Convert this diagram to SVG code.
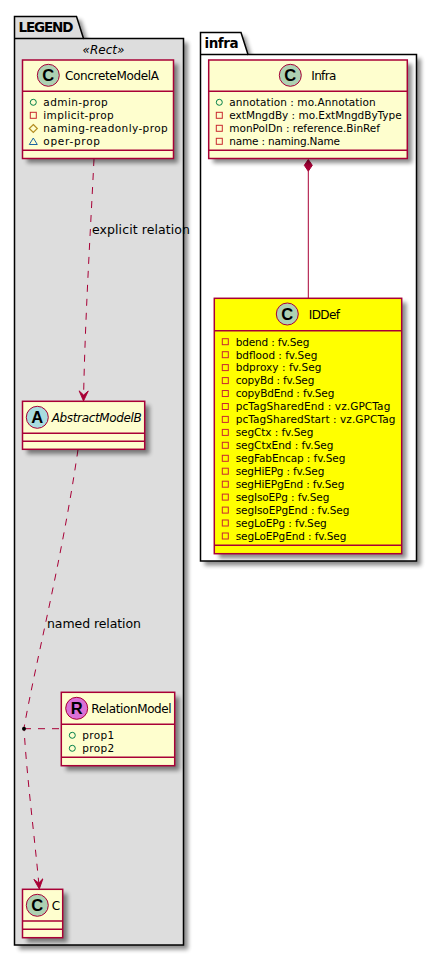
<svg xmlns="http://www.w3.org/2000/svg" width="437" height="956" viewBox="0 0 437 956">
<style>
text{font-family:"DejaVu Sans","Liberation Sans",sans-serif;fill:#000}
.a{font-size:10.5px}
.t{font-size:12px}
.i{font-style:italic}
.l{font-size:12.5px}
.p{font-size:13.5px;font-weight:bold}
.g{font-family:"Liberation Sans",sans-serif;font-size:16.5px;font-weight:bold;text-anchor:middle}
.pk{stroke:#000;stroke-width:1.5;fill:#fff}
.gr{fill:#DDDDDD}
.box{fill:#FEFECE;stroke:#A80036;stroke-width:1.5}
.y{fill:#FFFF00}
.sep{stroke:#A80036;stroke-width:1.5;fill:none}
.c{stroke:#A80036;stroke-width:1;fill:none}
.d{stroke-dasharray:7,7}
.ci{stroke:#A80036;stroke-width:1}
.pub{fill:none;stroke:#038048;stroke-width:1}
.pri{fill:none;stroke:#C82930;stroke-width:1}
.pro{fill:none;stroke:#B38D22;stroke-width:1.2}
.pac{fill:none;stroke:#1963A0;stroke-width:1}
</style>
<defs>
<filter id="s" x="-20%" y="-20%" width="140%" height="140%"><feGaussianBlur stdDeviation="2"/></filter>
<marker id="vee" viewBox="0 0 12 12" refX="11" refY="5.5" markerWidth="12" markerHeight="11" markerUnits="userSpaceOnUse" orient="auto"><path d="M11 5.500L0 0.500L4.500 5.500L0 10.500Z" fill="#A80036" stroke="#A80036"/></marker>
</defs>

<g id="pkg-legend">
<path d="M19 20H81L88 42.500H188V949.500H19Z" fill="#000" opacity=".45" filter="url(#s)"/>
<path class="pk gr" d="M14.500 16.500H76.500L83.500 38.500H183.500V945H14.500Z"/>
<path class="pk" style="fill:none" d="M14.500 38.500H83.500"/>
<text class="p" x="18.500" y="31.500" textLength="55">LEGEND</text>
<text class="t i" x="82.500" y="53.500" textLength="42">«Rect»</text>
</g>

<g id="pkg-infra">
<path d="M204.500 36H245L252 58.500H421V565.500H204.500Z" fill="#000" opacity=".45" filter="url(#s)"/>
<path class="pk" d="M200.500 32.500H241L248 54.500H416.500V561H200.500Z"/>
<path class="pk" style="fill:none" d="M200.500 54.500H248"/>
<text class="p" x="204.500" y="48" textLength="34">infra</text>
</g>

<g id="connectors">
<path class="c d" d="M94 159C90 240 85 320 83.500 401" marker-end="url(#vee)"/>
<path class="c d" d="M78 449.500C62 560 36 660 24 728C27 780 35 840 39.300 889" marker-end="url(#vee)"/>
<path class="c d" d="M24 728.700H61"/>
<circle cx="24" cy="728.700" r="2" fill="#000"/>
<path class="c" d="M308.300 298V171"/>
<path d="M308.300 159.500L312.300 165.300L308.300 171.200L304.300 165.300Z" fill="#A80036" stroke="#A80036"/>
<text class="l" x="92" y="233.500" textLength="98">explicit relation</text>
<text class="l" x="47" y="627.500" textLength="94">named relation</text>
</g>

<g id="node-ConcreteModelA">
<rect x="27" y="64" width="151" height="99" fill="#000" opacity=".45" filter="url(#s)"/>
<rect class="box" x="22.500" y="60" width="151" height="98.500"/>
<path class="sep" d="M22.500 91.300H173.500M22.500 150.300H173.500"/>
<circle class="ci" cx="48.300" cy="75.300" r="11" fill="#ADD1B2"/>
<text x="48.300" y="81.200" class="g">C</text>
<text class="t" x="65" y="80" textLength="94">ConcreteModelA</text>
<circle class="pub" cx="33.300" cy="102.300" r="3"/>
<rect class="pri" x="30.300" y="112.300" width="6" height="6"/>
<path class="pro" d="M33.300 124.500L37.300 128.500L33.300 132.500L29.300 128.500Z"/>
<path class="pac" d="M33.300 138L37.300 144.500H29.300Z"/>
<text class="a" x="43.300" y="106" textLength="64.400">admin-prop</text>
<text class="a" x="43.300" y="119" textLength="70.400">implicit-prop</text>
<text class="a" x="43.300" y="132" textLength="124.400">naming-readonly-prop</text>
<text class="a" x="43.300" y="145" textLength="56.700">oper-prop</text>
</g>

<g id="node-AbstractModelB">
<rect x="27" y="405.500" width="122.500" height="48.500" fill="#000" opacity=".45" filter="url(#s)"/>
<rect class="box" x="22.500" y="401.300" width="122.200" height="48"/>
<path class="sep" d="M22.500 433.300H144.700M22.500 441.300H144.700"/>
<circle class="ci" cx="37.300" cy="417.300" r="11" fill="#A9DCDF"/>
<text x="37.300" y="423.200" class="g">A</text>
<text class="t i" x="51.700" y="422" textLength="90">AbstractModelB</text>
</g>

<g id="node-RelationModel">
<rect x="66" y="697" width="113.500" height="73.500" fill="#000" opacity=".45" filter="url(#s)"/>
<rect class="box" x="61.300" y="692.300" width="113.400" height="73.400"/>
<path class="sep" d="M61.300 724.300H174.700M61.300 757.300H174.700"/>
<circle class="ci" cx="76.700" cy="708.300" r="11" fill="#DA70D6"/>
<text x="76.700" y="714.200" class="g">R</text>
<text class="t" x="91.300" y="713" textLength="80.400">RelationModel</text>
<circle class="pub" cx="72.300" cy="735.300" r="3"/>
<circle class="pub" cx="72.300" cy="748.300" r="3"/>
<text class="a" x="82.300" y="739" textLength="32">prop1</text>
<text class="a" x="82.300" y="752" textLength="32">prop2</text>
</g>

<g id="node-C">
<rect x="27" y="893.500" width="40.500" height="49" fill="#000" opacity=".45" filter="url(#s)"/>
<rect class="box" x="22.500" y="889.300" width="40.200" height="48.400"/>
<path class="sep" d="M22.500 921H62.700M22.500 929.300H62.700"/>
<circle class="ci" cx="37.300" cy="905.300" r="11" fill="#ADD1B2"/>
<text x="37.300" y="911.200" class="g">C</text>
<text class="t" x="51.700" y="910" textLength="7.500">C</text>
</g>

<g id="node-Infra">
<rect x="213" y="64" width="199" height="99" fill="#000" opacity=".45" filter="url(#s)"/>
<rect class="box" x="208.700" y="60" width="198.600" height="98.500"/>
<path class="sep" d="M208.700 91.300H407.300M208.700 150.300H407.300"/>
<circle class="ci" cx="290.300" cy="75.300" r="11" fill="#ADD1B2"/>
<text x="290.300" y="81.200" class="g">C</text>
<text class="t" x="311.300" y="80" textLength="25">Infra</text>
<circle class="pub" cx="219.300" cy="102.300" r="3"/>
<rect class="pri" x="216.300" y="112.300" width="6" height="6"/>
<rect class="pri" x="216.300" y="125.300" width="6" height="6"/>
<rect class="pri" x="216.300" y="138.300" width="6" height="6"/>
<text class="a" x="229.300" y="106" textLength="146.400">annotation : mo.Annotation</text>
<text class="a" x="229.300" y="119" textLength="172.400">extMngdBy : mo.ExtMngdByType</text>
<text class="a" x="229.300" y="132" textLength="150.700">monPolDn : reference.BinRef</text>
<text class="a" x="229.300" y="145" textLength="110.700">name : naming.Name</text>
</g>

<g id="node-IDDef">
<rect x="219" y="302.500" width="187.500" height="256" fill="#000" opacity=".45" filter="url(#s)"/>
<rect class="box y" x="214.300" y="298.300" width="187.400" height="255.400"/>
<path class="sep" d="M214.300 330.700H401.700M214.300 545.300H401.700"/>
<circle class="ci" cx="287.300" cy="314" r="11" fill="#ADD1B2"/>
<text x="287.300" y="319.900" class="g">C</text>
<text class="t" x="308.700" y="319" textLength="31.300">IDDef</text>
<g class="pri">
<rect x="222.300" y="338.700" width="6" height="6"/>
<rect x="222.300" y="351.700" width="6" height="6"/>
<rect x="222.300" y="364.600" width="6" height="6"/>
<rect x="222.300" y="377.600" width="6" height="6"/>
<rect x="222.300" y="390.500" width="6" height="6"/>
<rect x="222.300" y="403.500" width="6" height="6"/>
<rect x="222.300" y="416.400" width="6" height="6"/>
<rect x="222.300" y="429.400" width="6" height="6"/>
<rect x="222.300" y="442.300" width="6" height="6"/>
<rect x="222.300" y="455.300" width="6" height="6"/>
<rect x="222.300" y="468.200" width="6" height="6"/>
<rect x="222.300" y="481.200" width="6" height="6"/>
<rect x="222.300" y="494.100" width="6" height="6"/>
<rect x="222.300" y="507.100" width="6" height="6"/>
<rect x="222.300" y="520" width="6" height="6"/>
<rect x="222.300" y="533" width="6" height="6"/>
</g>
<text class="a" x="235.700" y="345.500" textLength="73.600">bdend : fv.Seg</text>
<text class="a" x="235.700" y="358.500" textLength="81.600">bdflood : fv.Seg</text>
<text class="a" x="235.700" y="371.400" textLength="85.600">bdproxy : fv.Seg</text>
<text class="a" x="235.700" y="384.400" textLength="78.600">copyBd : fv.Seg</text>
<text class="a" x="235.700" y="397.300" textLength="98.600">copyBdEnd : fv.Seg</text>
<text class="a" x="235.700" y="410.300" textLength="154.600">pcTagSharedEnd : vz.GPCTag</text>
<text class="a" x="235.700" y="423.200" textLength="159.600">pcTagSharedStart : vz.GPCTag</text>
<text class="a" x="235.700" y="436.200" textLength="77.600">segCtx : fv.Seg</text>
<text class="a" x="235.700" y="449.100" textLength="97.600">segCtxEnd : fv.Seg</text>
<text class="a" x="235.700" y="462.100" textLength="109.600">segFabEncap : fv.Seg</text>
<text class="a" x="235.700" y="475" textLength="88.600">segHiEPg : fv.Seg</text>
<text class="a" x="235.700" y="488" textLength="108.600">segHiEPgEnd : fv.Seg</text>
<text class="a" x="235.700" y="500.900" textLength="93.600">segIsoEPg : fv.Seg</text>
<text class="a" x="235.700" y="513.900" textLength="113.600">segIsoEPgEnd : fv.Seg</text>
<text class="a" x="235.700" y="526.800" textLength="91">segLoEPg : fv.Seg</text>
<text class="a" x="235.700" y="539.800" textLength="110.600">segLoEPgEnd : fv.Seg</text>
</g>
</svg>
